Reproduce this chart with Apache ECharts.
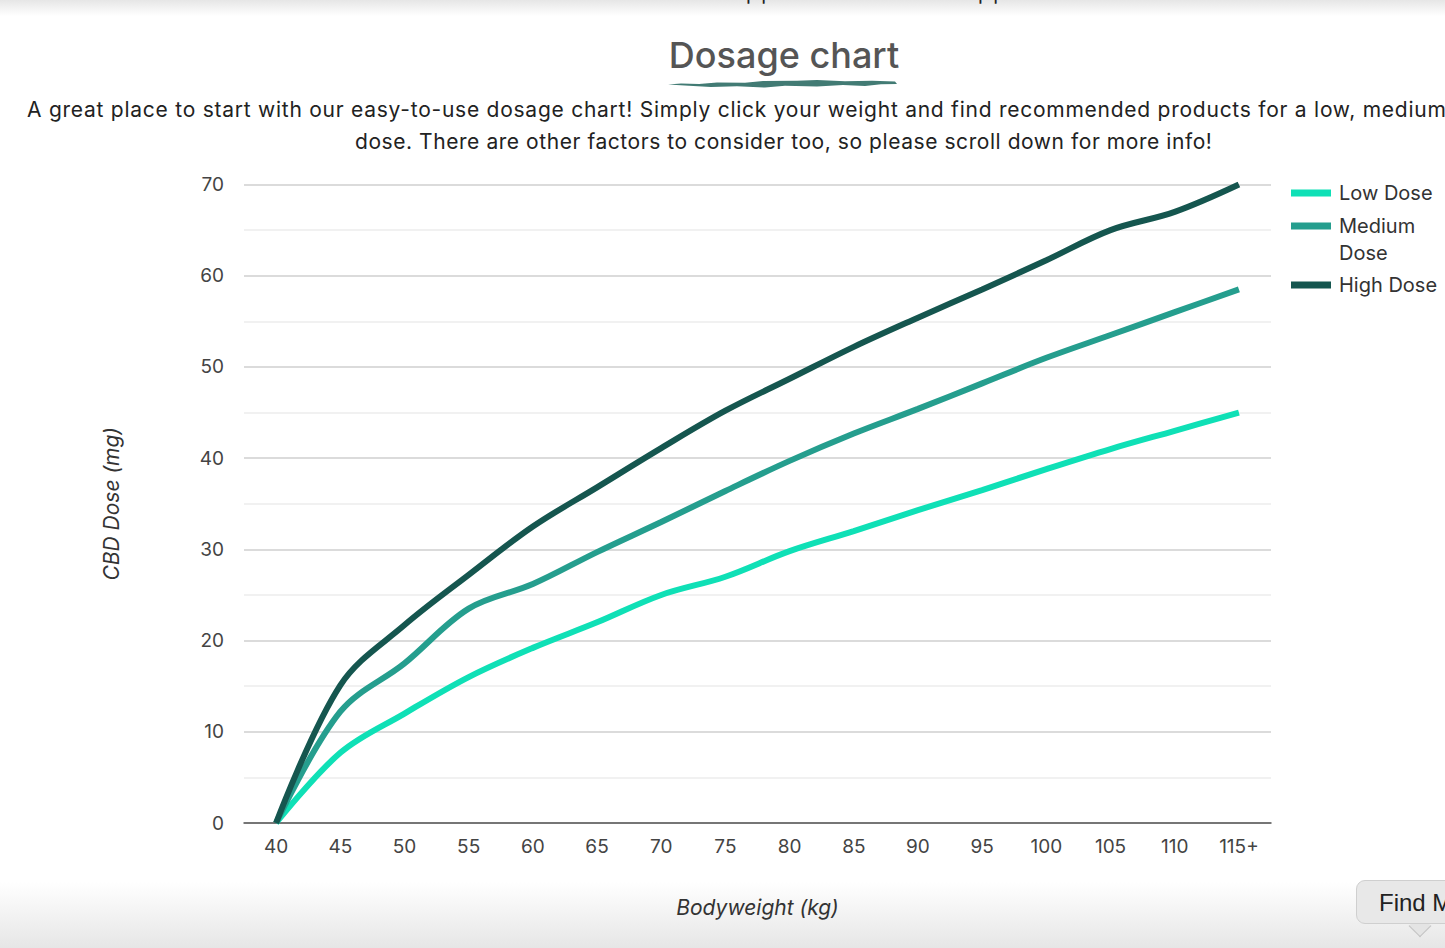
<!DOCTYPE html>
<html>
<head>
<meta charset="utf-8">
<title>Dosage chart</title>
<script src="https://cdn.jsdelivr.net/npm/echarts@6/dist/echarts.min.js"></script>
<style>
html, body { margin: 0; padding: 0; background: #fff; overflow: hidden; }
body { width: 1445px; height: 948px; position: relative; font-family: Inter, "Noto Sans", sans-serif; color: #222; }
#myChart { position: absolute; left: 0; top: 0; width: 1445px; height: 948px; }
.shade-top { position: absolute; left: 0; top: 0; width: 100%; height: 16px; background: linear-gradient(#e6e6e6, #fff); }
.shade-bottom { position: absolute; left: 0; bottom: 0; width: 100%; height: 66px; background: linear-gradient(#fff, #e6e6e6); }
.cut { position: absolute; top: -19px; font-size: 20px; line-height: 24px; letter-spacing: 3px; }
h1 { position: absolute; left: 584px; top: 33px; width: 400px; margin: 0; text-align: center; font-size: 36px; line-height: 44px; font-weight: 500; color: #555; }
.brush { position: absolute; left: 667px; top: 78px; }
.intro { position: absolute; font-size: 21px; line-height: 32px; white-space: nowrap; }
.tip { position: absolute; left: 1356px; top: 880px; width: 120px; height: 44px; background: #e8e8e8; border: 1px solid #cfcfcf; border-radius: 9px; font: 24px/44px "Liberation Sans", sans-serif; padding-left: 22px; box-sizing: border-box; color: #222; }
.tip-arrow { position: absolute; left: 1412px; top: 918px; width: 15px; height: 15px; background: #e4e4e4; border-right: 1px solid #c4c4c4; border-bottom: 1px solid #c4c4c4; transform: rotate(45deg); }
</style>
</head>
<body>
<div class="shade-top"></div>
<div class="shade-bottom"></div>
<div class="cut" style="left:746px">pp</div>
<div class="cut" style="left:978px">pp</div>
<h1>Dosage chart</h1>
<svg class="brush" width="232" height="12"><path d="M1 6.5 L14 5.5 L32 6 L50 4.5 L78 4.8 L96 3 L130 2.8 L150 2 L178 3.2 L205 2.8 L228 3.4 L230 6 L214 6.2 L198 8 L176 6.9 L150 8.4 L118 7.8 L98 9.6 L70 8.2 L44 9 L22 7.8 Z" fill="#427b74"/></svg>
<div class="intro" style="left:27px;top:94px;letter-spacing:0.75px">A great place to start with our easy-to-use dosage chart! Simply click your weight and find recommended products for a low, medium</div>
<div class="intro" style="left:355px;top:126px;letter-spacing:0.56px">dose. There are other factors to consider too, so please scroll down for more info!</div>
<div id="myChart"></div>
<div class="tip-arrow"></div>
<div class="tip">Find M</div>
<script>
var weights = ["40","45","50","55","60","65","70","75","80","85","90","95","100","105","110","115+"];
var lowDose = [0,7.7,12,16,19.2,22,25,27,29.8,32,34.3,36.5,38.8,41,43,45];
var mediumDose = [0,12.2,17.5,23.5,26.2,29.7,33,36.4,39.7,42.7,45.4,48.2,51,53.5,56,58.5];
var highDose = [0,15.1,21.7,27.2,32.5,36.8,41.1,45.2,48.7,52.2,55.4,58.5,61.7,65,67,70];
var colors = ["#0fe0b6","#259e8e","#15564f"];

var chartDom = document.getElementById("myChart");
var myChart = echarts.init(chartDom, null, { renderer: "svg" });

function line(name, values, color) {
  return {
    name: name,
    type: "line",
    data: values,
    smooth: 0.35,
    symbol: "none",
    lineStyle: { width: 6, color: color },
    itemStyle: { color: color }
  };
}

// one legend per row, the wrapped "Medium Dose" row needs its own spacing
function legendRow(name, label, top) {
  return {
    left: 1291,
    top: top,
    padding: 0,
    itemWidth: 40,
    itemHeight: 7,
    icon: "rect",
    data: [name],
    formatter: function () { return label; },
    textStyle: { fontSize: 20, color: "#333", lineHeight: 27, padding: [0, 0, 0, 3] }
  };
}

var option = {
  animation: false,
  textStyle: { fontFamily: "Inter" },
  grid: { left: 244, right: 174, top: 184.5, bottom: 125 },
  legend: [
    legendRow("Low Dose", "Low Dose", 179.5),
    legendRow("Medium Dose", "Medium", 212.5),
    legendRow("High Dose", "High Dose", 271.5)
  ],
  graphic: [{
    type: "text",
    left: 1339,
    top: 239.5,
    style: { text: "Dose", fontFamily: "Inter", fontSize: 20, lineHeight: 27, fill: "#333" }
  }],
  xAxis: {
    type: "category",
    data: weights,
    name: "Bodyweight (kg)",
    nameLocation: "middle",
    nameGap: 74,
    nameTextStyle: { fontSize: 21, fontStyle: "italic", color: "#333" },
    axisTick: { show: false },
    axisLine: { lineStyle: { color: "#555", width: 1.5 } },
    axisLabel: { fontSize: 19, color: "#444", margin: 14, interval: 0 }
  },
  yAxis: {
    type: "value",
    min: 0,
    max: 70,
    interval: 10,
    name: "CBD Dose (mg)",
    nameLocation: "middle",
    nameGap: 122,
    nameTextStyle: { fontSize: 21, fontStyle: "italic", color: "#333" },
    axisLine: { show: false },
    axisTick: { show: false },
    axisLabel: { fontSize: 19, color: "#444", margin: 20 },
    splitLine: { lineStyle: { color: "#cfcfcf", width: 1.5 } },
    minorTick: { show: false, splitNumber: 2 },
    minorSplitLine: { show: true, lineStyle: { color: "#ececec", width: 1.5 } }
  },
  series: [
    line("Low Dose", lowDose, colors[0]),
    line("Medium Dose", mediumDose, colors[1]),
    line("High Dose", highDose, colors[2])
  ]
};
option && myChart.setOption(option);
</script>
</body>
</html>
